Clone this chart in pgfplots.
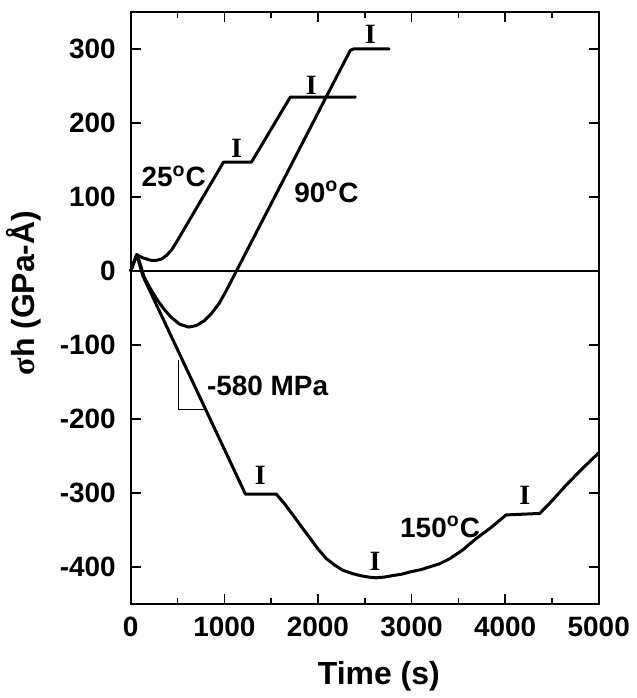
\documentclass[border=0pt]{standalone}
\usepackage{fontspec}
\setmainfont{Liberation Sans}
\newfontfamily\serifb{Liberation Serif}
\usepackage{pgfplots}
\pgfplotsset{compat=1.18}

\begin{document}
\begin{tikzpicture}
\begin{axis}[
    scale only axis,
    width=234.5pt, height=296.5pt,
    xmin=0, xmax=5000,
    ymin=-450, ymax=350,
    xtick={0,1000,...,5000},
    minor xtick={500,1500,...,4500},
    ytick={-400,-300,...,300},
    tick align=inside,
    major tick length=5pt,
    minor tick length=3pt,
    axis line style={line width=1pt},
    every tick/.style={line width=0.8pt, black},
    /pgf/number format/assume math mode=true,
    scaled x ticks=false,
    xticklabel={\pgfmathprintnumber[set thousands separator={}]{\tick}},
    ticklabel style={font=\fontsize{14}{14}\selectfont\bfseries},
    yticklabel style={xshift=-4pt},
    xticklabel style={yshift=-3pt},
    xlabel={Time (s)},
    ylabel={{\serifb\bfseries σ}h (GPa-Å)},
    label style={font=\fontsize{16}{16}\selectfont\bfseries},
    xlabel style={at={(axis description cs:0.53,-0.123)}, anchor=center},
    ylabel style={at={(axis description cs:-0.228,0.525)}, anchor=center},
    every axis plot/.append style={line join=round, line cap=round},
    clip=false,
]

% 25 C
\addplot[black, line width=1.5pt] coordinates {
    (0,0) (64,22) (120,18) (170,16) (220,14) (267,14) (330,16) (384,21) (440,29)
    (490,39) (550,52) (991,147) (1290,147) (1705,235) (2400,235)
};

% 90 C
\addplot[black, line width=1.5pt] coordinates {
    (0,0) (64,22) (100,10) (139,-7) (200,-22) (277,-38) (350,-51) (426,-62)
    (520,-72) (618,-76) (700,-74) (780,-68) (860,-58) (940,-45) (1020,-27)
    (1130,0) (2345,298) (2380,300) (2760,300)
};

% 150 C
\addplot[black, line width=1.5pt] coordinates {
    (0,0) (64,22) (130,-7) (1226,-302) (1556,-302) (1650,-316) (1738,-331)
    (1830,-347) (1919,-362) (2000,-376) (2090,-389) (2180,-398) (2270,-405)
    (2360,-409) (2450,-412) (2540,-414) (2620,-415) (2710,-414) (2800,-412)
    (2900,-410) (2985,-407) (3100,-404) (3200,-400) (3300,-396) (3411,-389)
    (3550,-377) (3690,-362) (3850,-347) (4010,-330) (4370,-328) (4500,-311)
    (4650,-290) (4820,-268) (5000,-246)
};

% zero line
\draw[line width=0.8pt] (axis cs:0,0) -- (axis cs:5000,0);

% slope triangle
\draw[line width=0.5pt] (axis cs:512,-120) -- (axis cs:512,-188) -- (axis cs:790,-188);

% labels
\begin{scope}[font=\fontsize{14}{14}\selectfont\bfseries]
\node at (axis cs:458,128) {25\textsuperscript{o}C};
\node at (axis cs:2090,107) {90\textsuperscript{o}C};
\node[anchor=west] at (axis cs:740,-155) {-580 MPa};
\node at (axis cs:3305,-346) {150\textsuperscript{o}C};
\end{scope}
\begin{scope}[font=\fontsize{14}{14}\selectfont\serifb\bfseries]
\node at (axis cs:1130,165) {I};
\node at (axis cs:1930,251) {I};
\node at (axis cs:2560,320) {I};
\node at (axis cs:1385,-277) {I};
\node at (axis cs:2610,-393) {I};
\node at (axis cs:4210,-304) {I};
\end{scope}
\end{axis}
\path ([shift={(-63.5pt,-46.5pt)}]current axis.south west) rectangle ([shift={(17pt,6pt)}]current axis.north east);
\end{tikzpicture}
\end{document}
